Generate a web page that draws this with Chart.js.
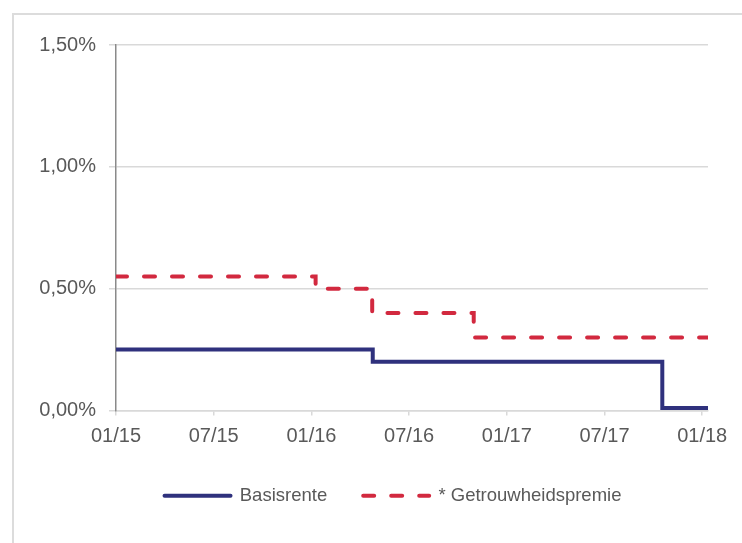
<!DOCTYPE html>
<html>
<head>
<meta charset="utf-8">
<script src="https://cdn.jsdelivr.net/npm/chart.js@4.4.1/dist/chart.umd.min.js"></script>
<style>
  html, body { margin: 0; padding: 0; overflow: hidden; background: #fff; }
  #frame { position: absolute; left: 12px; top: 13px; width: 800px; height: 600px; border: 2px solid #dcdcdc; }
  #myChart { position: absolute; left: 0; top: 0; }
</style>
</head>
<body>
<div id="frame"></div>
<canvas id="myChart" width="742" height="543"></canvas>
<script>
// change dates (the value holds from that day on) and rates in %
const basisDates = ['2015-01-01', '2016-04-24', '2017-10-18', '2018-01-12'];
const basisValues = [0.25, 0.20, 0.01, 0.01];

const premieDates = ['2015-01-01', '2016-01-09', '2016-04-23', '2016-10-31', '2018-01-12'];
const premieValues = [0.55, 0.50, 0.40, 0.30, 0.30];

const seriesNames = ['Basisrente', '* Getrouwheidspremie'];
const yTicks = [0, 0.5, 1.0, 1.5];
const xTickMonths = [0, 6, 12, 18, 24, 30, 36];   // months after 01/2015
const xEnd = '2018-01-12';

// months since 1 jan 2015, with the day as a fraction of the month
function toMonths(s) {
  const [y, m, d] = s.split('-').map(Number);
  const dim = new Date(Date.UTC(y, m, 0)).getUTCDate();
  return (y - 2015) * 12 + (m - 1) + (d - 1) / dim;
}

function pts(dates, values) {
  return dates.map((d, i) => ({ x: toMonths(d), y: values[i] }));
}

const textColor = '#595959';
const font = 'Liberation Sans, Arial, sans-serif';

// legend sits centred a bit right of the canvas middle
const legendShift = {
  id: 'legendShift',
  beforeDraw(chart) {
    if (chart.legend) {
      chart.legend.left = 78;
      chart.legend.right = 708;
    }
  }
};

const ctx = document.getElementById('myChart');

new Chart(ctx, {
  type: 'line',
  data: {
    datasets: [{
      label: seriesNames[0],
      data: pts(basisDates, basisValues),
      stepped: true,
      borderColor: '#2f317d',
      backgroundColor: '#2f317d',
      borderWidth: 4,
      borderCapStyle: 'round',
      pointRadius: 0,
      fill: false
    }, {
      label: seriesNames[1],
      data: pts(premieDates, premieValues),
      stepped: true,
      borderColor: '#d2293f',
      backgroundColor: '#d2293f',
      borderWidth: 4,
      borderDash: [11, 17],
      borderCapStyle: 'round',
      pointRadius: 0,
      fill: false
    }]
  },
  plugins: [legendShift],
  options: {
    responsive: false,
    animation: false,
    layout: {
      padding: { left: 0, right: 34, top: 45, bottom: 28 }
    },
    plugins: {
      tooltip: { enabled: false },
      legend: {
        position: 'bottom',
        labels: {
          usePointStyle: true,
          pointStyle: 'line',
          pointStyleWidth: 66,
          padding: 36,
          color: textColor,
          font: { family: font, size: 18.5 },
          generateLabels: (chart) => chart.data.datasets.map((ds, i) => ({
            text: ds.label,
            datasetIndex: i,
            hidden: false,
            fillStyle: ds.borderColor,
            strokeStyle: ds.borderColor,
            fontColor: textColor,
            lineWidth: ds.borderWidth,
            lineDash: ds.borderDash || [],
            lineCap: 'round',
            pointStyle: 'line'
          }))
        }
      }
    },
    scales: {
      x: {
        type: 'linear',
        min: 0,
        max: toMonths(xEnd),
        afterFit: (s) => { s.height = 40; },
        afterBuildTicks: (s) => { s.ticks = xTickMonths.map(v => ({ value: v })); },
        ticks: {
          includeBounds: false,
          autoSkip: false,
          maxRotation: 0,
          padding: 9,
          color: textColor,
          font: { family: font, size: 20 },
          callback: (v) => {
            const m = (v % 12) + 1;
            const y = 15 + Math.floor(v / 12);
            return String(m).padStart(2, '0') + '/' + y;
          }
        },
        grid: {
          drawOnChartArea: false,
          drawTicks: true,
          tickLength: 5,
          color: '#d9d9d9',
          lineWidth: 1.5
        },
        border: { color: '#d9d9d9', width: 1.5 }
      },
      y: {
        min: 0,
        max: 1.5,
        afterFit: (s) => { s.width = 116; },
        afterBuildTicks: (s) => { s.ticks = yTicks.map(v => ({ value: v })); },
        ticks: {
          padding: 13,
          color: textColor,
          font: { family: font, size: 20 },
          callback: (v) => v.toFixed(2).replace('.', ',') + '%'
        },
        grid: {
          color: '#d9d9d9',
          lineWidth: 1.5,
          tickLength: 7
        },
        border: { color: '#8a8a8a', width: 1.5 }
      }
    }
  }
});
</script>
</body>
</html>
